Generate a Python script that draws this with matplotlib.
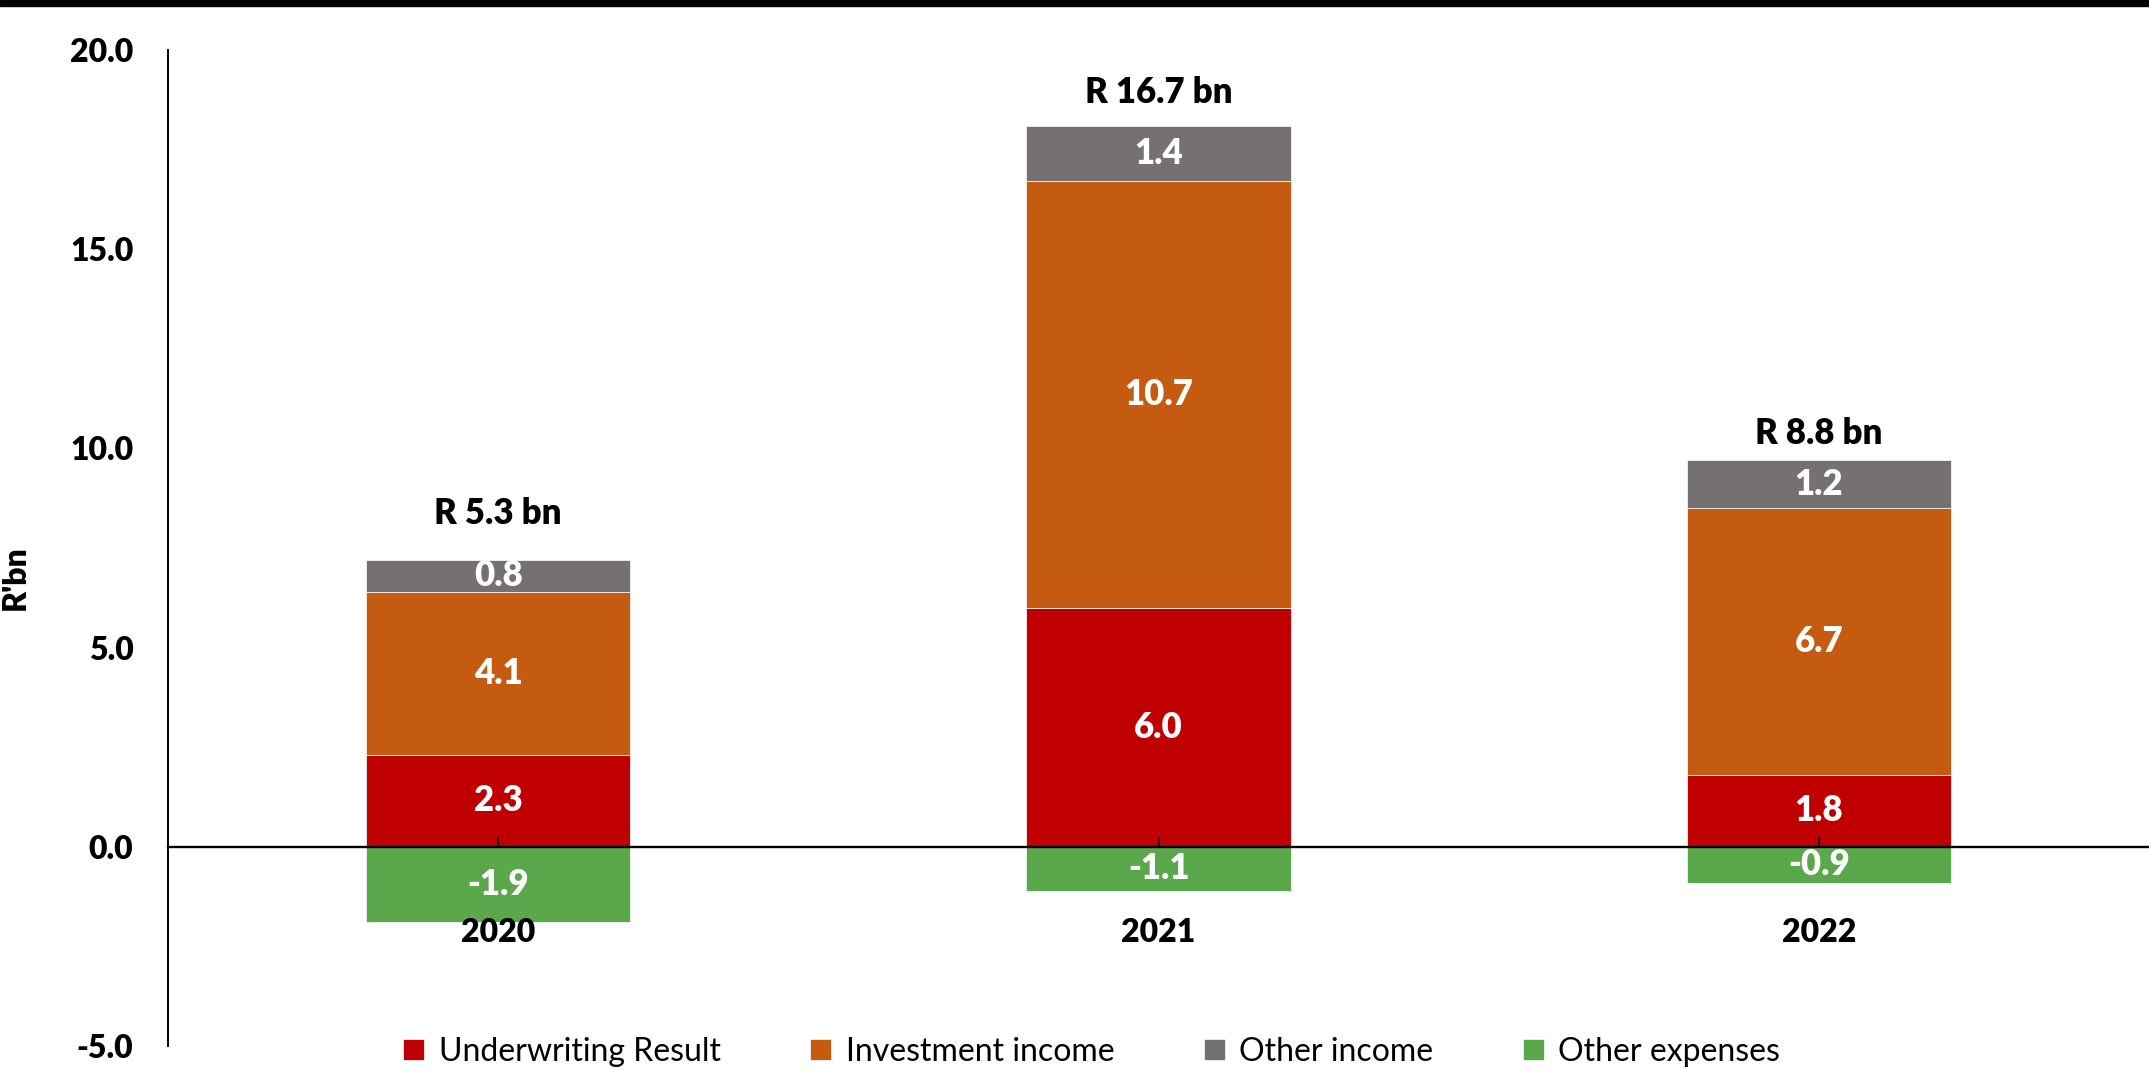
import matplotlib.pyplot as plt
import numpy as np
from matplotlib.patches import Rectangle

plt.rcParams['font.family'] = ['Lato', 'DejaVu Sans']

years = ['2020', '2021', '2022']
underwriting = [2.3, 6.0, 1.8]
investment = [4.1, 10.7, 6.7]
other_income = [0.8, 1.4, 1.2]
other_expenses = [-1.9, -1.1, -0.9]
totals = ['R 5.3 bn', 'R 16.7 bn', 'R 8.8 bn']
series_names = ['Underwriting Result', 'Investment income', 'Other income', 'Other expenses']
colors = ['#C00000', '#C55A11', '#767171', '#5BA74C']

fig = plt.figure(figsize=(21.49, 10.70), dpi=100)
ax = fig.add_axes([168 / 2149, 24 / 1070, 1981 / 2149, 996 / 1070])

# thin black strip across the top
fig.patches.append(Rectangle((0, 1 - 6 / 1070), 1, 6 / 1070, transform=fig.transFigure,
                             color='black', zorder=10))

# spine position first: moving it resets the tick objects
ax.spines['top'].set_visible(False)
ax.spines['right'].set_visible(False)
ax.spines['bottom'].set_position(('data', 0))
ax.spines['bottom'].set_linewidth(1.7)
ax.spines['left'].set_linewidth(1.4)

x = np.arange(len(years))
width = 0.4
bottom = np.zeros(len(years))
handles = []
for vals, name, c in zip([underwriting, investment, other_income], series_names[:3], colors[:3]):
    bars = ax.bar(x, vals, width, bottom=bottom, color=c, edgecolor='#f2f2f2', linewidth=0.6, label=name)
    ax.bar_label(bars, labels=['{:.1f}'.format(v) for v in vals], label_type='center',
                 color='white', fontsize=25, fontweight='heavy')
    handles.append(bars)
    bottom += np.array(vals)

bars = ax.bar(x, other_expenses, width, color=colors[3], edgecolor='#f2f2f2', linewidth=0.6,
              label=series_names[3])
ax.bar_label(bars, labels=['{:.1f}'.format(v) for v in other_expenses], label_type='center',
             color='white', fontsize=25, fontweight='heavy')
handles.append(bars)

# net totals above each stack
offsets = [46, 33, 27]
for i, t in enumerate(totals):
    ax.annotate(t, (x[i], bottom[i]), xytext=(0, offsets[i]), textcoords='offset pixels',
                ha='center', va='center', fontsize=25, fontweight='heavy')

ax.set_xlim(-0.5, 2.5)
ax.set_ylim(-5, 20)
ax.tick_params(axis='y', length=0, pad=25)
ax.tick_params(axis='x', direction='in', length=7, width=1.2, pad=51)
ax.set_yticks(np.arange(-5, 21, 5))
ax.set_yticklabels(['{:.1f}'.format(v) for v in np.arange(-5, 21, 5)], fontsize=23, fontweight='heavy')
ax.set_xticks(x)
ax.set_xticklabels(years, fontsize=23, fontweight='heavy')

ax.set_ylabel("R'bn", fontsize=23, fontweight='heavy')
ax.yaxis.set_label_coords(-0.07, 0.47)

fig.legend(handles=handles, labels=series_names, loc='center', bbox_to_anchor=(0.508, 0.017),
           ncol=4, frameon=False, fontsize=23, handlelength=0.66, handleheight=0.66,
           handletextpad=0.45, columnspacing=2.8)

fig.savefig('out.png', dpi=100)
